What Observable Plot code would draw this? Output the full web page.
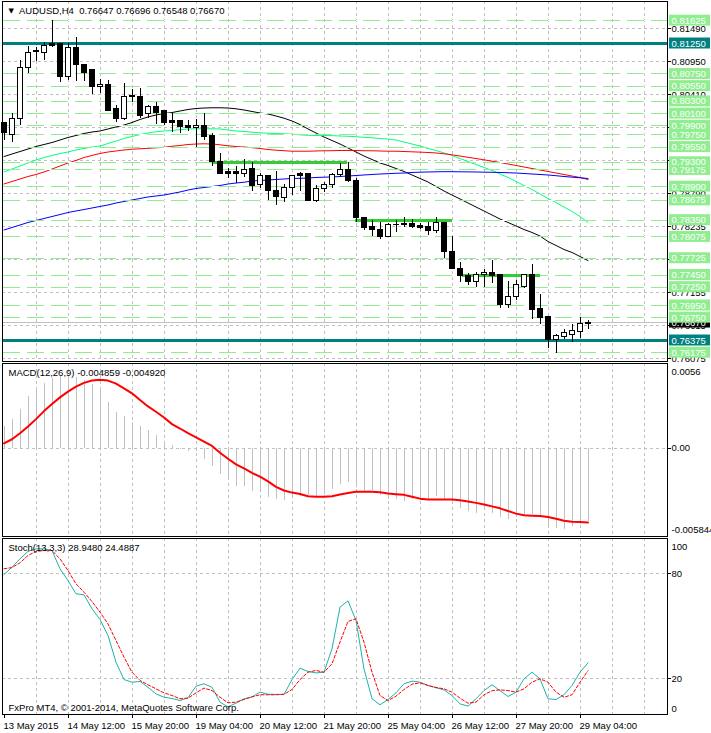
<!DOCTYPE html>
<html><head><meta charset="utf-8">
<script src="https://cdn.jsdelivr.net/npm/d3@7"></script>
<script src="https://cdn.jsdelivr.net/npm/@observablehq/plot@0.6"></script>
<style>
body{margin:0;background:#fff;overflow:hidden}
#wrap{position:relative;width:711px;height:733px;background:#fff;overflow:hidden}
#wrap svg{position:absolute;left:0}
</style></head><body><div id="wrap"></div>
<script>
// ---------- data ----------
const symbol = "AUDUSD", timeframe = "H4";
const openP = [0.79937,0.79756,0.80003,0.80856,0.81119,0.81102,0.81234,0.81234,0.80708,0.81168,
0.80905,0.80807,0.80528,0.80561,0.80167,0.80003,0.80396,0.80364,0.80085,0.80200,
0.80150,0.79970,0.79970,0.79888,0.79860,0.79904,0.79724,0.79313,0.79133,0.79133,
0.79111,0.79187,0.78924,0.79067,0.78837,0.78717,0.78881,0.79100,0.79100,0.78673,
0.78865,0.78931,0.79095,0.79177,0.79001,0.78389,0.78230,0.78197,0.78071,0.78274,
0.78295,0.78295,0.78258,0.78230,0.78169,0.78307,0.77824,0.77552,0.77437,0.77332,
0.77453,0.77486,0.77442,0.76961,0.77086,0.77250,0.77458,0.76884,0.76769,0.76387,
0.76429,0.76469,0.76511,0.76647];
const highP = [0.79953,0.80101,0.80971,0.81201,0.81184,0.81266,0.81628,0.81250,0.81250,0.81348,
0.80905,0.80807,0.80659,0.80643,0.80232,0.80593,0.80495,0.80511,0.80232,0.80282,
0.80150,0.80101,0.79970,0.79986,0.79998,0.80096,0.79768,0.79440,0.79193,0.79231,
0.79341,0.79302,0.79111,0.79067,0.79149,0.78936,0.79078,0.79138,0.79100,0.78919,
0.78973,0.79111,0.79285,0.79302,0.79029,0.78389,0.78345,0.78307,0.78291,0.78345,
0.78389,0.78356,0.78291,0.78307,0.78389,0.78307,0.78082,0.77660,0.77480,0.77496,
0.77535,0.77688,0.77442,0.77343,0.77360,0.77458,0.77618,0.77125,0.76769,0.76469,
0.76551,0.76633,0.76758,0.76696];
const lowP = [0.79658,0.79625,0.79904,0.80758,0.80955,0.80971,0.81184,0.80610,0.80643,0.80626,
0.80626,0.80413,0.80429,0.80150,0.79953,0.79986,0.80282,0.80019,0.80019,0.79920,
0.79904,0.79789,0.79773,0.79811,0.79548,0.79658,0.79231,0.79100,0.79029,0.78957,
0.79046,0.78826,0.78870,0.78673,0.78591,0.78645,0.78755,0.78826,0.78657,0.78645,
0.78809,0.78875,0.79046,0.78968,0.78317,0.78181,0.78087,0.78028,0.78071,0.78153,
0.78225,0.78213,0.78192,0.78103,0.78126,0.77716,0.77535,0.77332,0.77273,0.77250,
0.77250,0.77316,0.76905,0.76900,0.77032,0.77224,0.76715,0.76638,0.76249,0.76167,
0.76387,0.76347,0.76413,0.76548];
const closeP = [0.79773,0.80003,0.80856,0.81102,0.81107,0.81201,0.81212,0.80708,0.81168,0.80889,
0.80774,0.80528,0.80561,0.80150,0.80003,0.80364,0.80364,0.80068,0.80200,0.80106,
0.79942,0.79942,0.79876,0.79860,0.79904,0.79712,0.79302,0.79100,0.79100,0.79111,
0.79177,0.78919,0.79067,0.78826,0.78727,0.78881,0.79078,0.79078,0.78673,0.78865,
0.78931,0.79095,0.79177,0.78990,0.78382,0.78225,0.78192,0.78071,0.78274,0.78276,
0.78263,0.78246,0.78218,0.78169,0.78307,0.77824,0.77545,0.77431,0.77332,0.77453,
0.77486,0.77431,0.76961,0.77092,0.77289,0.77458,0.76879,0.76748,0.76380,0.76441,
0.76490,0.76523,0.76649,0.76670];

const maBlack = [0.79395,0.79436,0.79477,0.79518,0.79559,0.79592,0.79625,0.79666,0.79707,0.79740,
0.79773,0.79797,0.79814,0.79847,0.79880,0.79912,0.79953,0.80003,0.80044,0.80076,
0.80101,0.80117,0.80142,0.80167,0.80183,0.80191,0.80195,0.80195,0.80191,0.80178,
0.80159,0.80134,0.80109,0.80093,0.80060,0.80024,0.79978,0.79920,0.79847,0.79781,
0.79715,0.79658,0.79600,0.79535,0.79469,0.79403,0.79346,0.79289,0.79248,0.79198,
0.79149,0.79092,0.79034,0.78977,0.78903,0.78829,0.78763,0.78698,0.78632,0.78566,
0.78501,0.78435,0.78369,0.78312,0.78255,0.78197,0.78148,0.78090,0.78000,0.77935,
0.77869,0.77820,0.77754,0.77688];
const maGreen = [0.79141,0.79190,0.79239,0.79289,0.79338,0.79379,0.79412,0.79445,0.79469,0.79502,
0.79527,0.79551,0.79568,0.79609,0.79650,0.79691,0.79724,0.79756,0.79781,0.79801,
0.79814,0.79822,0.79835,0.79847,0.79850,0.79850,0.79850,0.79847,0.79830,0.79814,
0.79806,0.79794,0.79784,0.79778,0.79773,0.79768,0.79761,0.79751,0.79743,0.79740,
0.79740,0.79737,0.79732,0.79727,0.79720,0.79710,0.79702,0.79691,0.79683,0.79666,
0.79633,0.79600,0.79568,0.79527,0.79494,0.79453,0.79412,0.79362,0.79313,0.79264,
0.79215,0.79166,0.79108,0.79051,0.78985,0.78919,0.78854,0.78780,0.78706,0.78640,
0.78566,0.78493,0.78411,0.78312];
const maRed = [0.78944,0.78985,0.79026,0.79067,0.79100,0.79141,0.79190,0.79239,0.79289,0.79330,
0.79379,0.79412,0.79445,0.79469,0.79486,0.79502,0.79515,0.79522,0.79530,0.79538,
0.79546,0.79563,0.79576,0.79592,0.79600,0.79604,0.79600,0.79587,0.79571,0.79559,
0.79551,0.79540,0.79527,0.79510,0.79499,0.79490,0.79482,0.79482,0.79482,0.79486,
0.79489,0.79490,0.79494,0.79494,0.79494,0.79490,0.79489,0.79486,0.79482,0.79482,
0.79477,0.79472,0.79467,0.79461,0.79453,0.79440,0.79423,0.79403,0.79382,0.79362,
0.79341,0.79318,0.79297,0.79272,0.79248,0.79223,0.79198,0.79174,0.79149,0.79124,
0.79100,0.79075,0.79051,0.79018];
const maBlue = [0.78189,0.78230,0.78271,0.78312,0.78345,0.78378,0.78410,0.78443,0.78476,0.78501,
0.78525,0.78550,0.78575,0.78599,0.78632,0.78657,0.78681,0.78706,0.78731,0.78747,
0.78763,0.78788,0.78813,0.78845,0.78870,0.78886,0.78903,0.78919,0.78944,0.78960,
0.78973,0.78993,0.79001,0.79010,0.79018,0.79026,0.79034,0.79037,0.79042,0.79051,
0.79056,0.79059,0.79067,0.79075,0.79083,0.79092,0.79100,0.79108,0.79113,0.79120,
0.79124,0.79133,0.79138,0.79141,0.79144,0.79146,0.79146,0.79144,0.79143,0.79141,
0.79138,0.79136,0.79133,0.79129,0.79124,0.79116,0.79108,0.79100,0.79092,0.79080,
0.79067,0.79056,0.79046,0.79034];

const macdMain = [0.00143,0.00192,0.00254,0.00341,0.00392,0.00425,0.00458,0.00476,0.00480,0.00469,
0.00447,0.00418,0.00396,0.00303,0.00236,0.00210,0.00170,0.00141,0.00114,0.00086,
0.00023,0.00019,-0.00008,-0.00019,-0.00023,-0.00074,-0.00123,-0.00176,-0.00207,-0.00251,
-0.00256,-0.00285,-0.00296,-0.00329,-0.00340,-0.00345,-0.00322,-0.00318,-0.00314,-0.00318,
-0.00307,-0.00274,-0.00243,-0.00229,-0.00263,-0.00296,-0.00278,-0.00314,-0.00340,-0.00340,
-0.00351,-0.00340,-0.00345,-0.00340,-0.00318,-0.00345,-0.00373,-0.00402,-0.00418,-0.00429,
-0.00411,-0.00429,-0.00462,-0.00473,-0.00456,-0.00447,-0.00440,-0.00456,-0.00529,-0.00529,
-0.00535,-0.00518,-0.00507,-0.004859];
const macdSignal = [0.00032,0.00059,0.00099,0.00143,0.00192,0.00245,0.00292,0.00336,0.00374,0.00407,
0.00432,0.00447,0.00452,0.00447,0.00427,0.00396,0.00363,0.00318,0.00276,0.00241,
0.00203,0.00159,0.00130,0.00099,0.00072,0.00043,0.00015,-0.00030,-0.00070,-0.00107,
-0.00134,-0.00163,-0.00189,-0.00220,-0.00256,-0.00280,-0.00294,-0.00303,-0.00318,-0.00322,
-0.00322,-0.00318,-0.00307,-0.00296,-0.00289,-0.00289,-0.00289,-0.00291,-0.00300,-0.00305,
-0.00309,-0.00322,-0.00334,-0.00340,-0.00340,-0.00340,-0.00340,-0.00345,-0.00353,-0.00362,
-0.00373,-0.00385,-0.00398,-0.00416,-0.00433,-0.00444,-0.00447,-0.00449,-0.00456,-0.00467,
-0.00480,-0.00487,-0.00489,-0.004920];

const stochK = [79.4,83.6,88.4,92.6,94.1,94.1,93.1,82.7,76.0,68.4,
67.8,59.8,53.7,44.6,29.3,19.4,17.9,18.3,15.0,11.2,
9.3,8.6,7.4,9.0,15.6,17.0,15.0,6.5,3.8,5.9,
8.4,9.5,12.2,11.0,10.9,10.9,19.4,25.9,24.0,23.2,
23.6,37.0,60.8,64.4,53.1,25.5,8.4,5.0,8.0,11.8,
17.0,18.5,17.9,16.0,14.7,13.5,10.3,5.5,4.2,8.4,
13.1,16.4,13.1,9.7,12.2,19.8,23.6,19.8,8.4,8.0,
10.7,16.0,23.6,28.948];
const stochD = [82.7,83.4,86.1,90.3,92.6,93.1,93.1,88.4,81.7,74.1,
69.3,64.0,57.9,51.2,41.7,32.2,23.6,18.9,16.4,14.1,
11.8,10.3,8.4,8.8,11.8,14.5,13.1,9.3,6.1,6.5,
8.0,9.5,10.7,10.7,10.7,11.0,13.7,19.4,23.6,24.6,
23.6,28.4,40.8,52.6,54.1,40.8,23.6,10.3,7.4,9.9,
13.7,16.8,17.5,16.0,14.9,14.1,12.2,8.8,5.9,6.5,
10.7,13.0,13.5,13.1,12.2,14.1,17.9,19.8,17.9,12.2,
9.3,10.7,17.9,24.4887];

const levelPrices = [0.81625,0.80750,0.80550,0.80300,0.80100,0.79900,0.79750,0.79550,0.79175,0.79300,
0.78900,0.78675,0.78350,0.78075,0.77725,0.77450,0.77250,0.76950,0.76750,0.76175];
const keyLevels = [0.81250,0.76375];
const zoneFrom = [26.2,43.9,57.3];
const zoneTo = [42.9,56.1,67.1];
const zonePrice = [0.7929,0.7835,0.7745];
const lastPrice = 0.76670;
const gridPrices = [0.81490,0.80949,0.80407,0.79866,0.79324,0.78783,0.78241,0.77700,0.77158,0.76617,0.76075];
const gridLabels = ["0.81490","0.80950","0.80410","0.79870","0.79330","0.78790","0.78235","0.77695","0.77155","0.76615","0.76075"];
const macdAxisLabels = ["0.0056","0.00","-0.005844"];
const stochAxis = [100,80,20,0];
const stochLevels = [80,20];
const tickBars = [0,8,16,24,32,40,48,56,64,72];
const tickLabels = ["13 May 2015","14 May 12:00","15 May 20:00","19 May 04:00","20 May 12:00","21 May 20:00","25 May 04:00","26 May 12:00","27 May 20:00","29 May 04:00"];

// ---------- layout ----------
const N = openP.length;
const idx = d3.range(N);
const X_DOMAIN = [-0.1875, 82.9375], X_RANGE = [2, 667];
const ix = px => X_DOMAIN[0] + (px - X_RANGE[0]) * (X_DOMAIN[1] - X_DOMAIN[0]) / (X_RANGE[1] - X_RANGE[0]);
const vgrid = d3.range(4, 81, 4);
const FONT = "'Liberation Sans', Arial, sans-serif";
const W = 711;
const wrap = document.getElementById("wrap");
const crisp = {shapeRendering: "crispEdges"};
const gridStyle = {stroke: "#c0c0c0", strokeDasharray: "3,3", ...crisp};

function panel(height, marginBottom, ydomain, yrange, marks, top) {
  const svg = Plot.plot({
    width: W, height,
    marginLeft: 2, marginRight: 44, marginTop: 1, marginBottom,
    x: {domain: X_DOMAIN, range: X_RANGE, axis: null},
    y: {domain: ydomain, range: yrange, axis: null},
    style: {background: "white", fontFamily: FONT, fontSize: "9.5px", overflow: "visible", color: "black"},
    marks
  });
  svg.style.top = top + "px";
  wrap.appendChild(svg);
}

// ---------- main price panel ----------
const Y_MAIN = [0.760304, 0.819394];
const PPX = (Y_MAIN[1] - Y_MAIN[0]) / 360;
const boxMarks = (vals, fill, textFill, labelOf) => vals.flatMap((v, k) => [
  Plot.rect([v], {x1: () => ix(669), x2: () => ix(710), y1: d => d - 5.5 * PPX, y2: d => d + 5.5 * PPX, fill}),
  Plot.text([v], {y: d => d, text: () => labelOf(v, k), frameAnchor: "right", dx: 4, textAnchor: "start", fill: textFill})
]);
const whiteIdx = idx.filter(i => closeP[i] >= openP[i]);
const blackIdx = idx.filter(i => closeP[i] < openP[i]);
const zones = zoneFrom.map((f, k) => ({from: f, to: zoneTo[k], price: zonePrice[k]}));

panel(362, 1, Y_MAIN, [361, 1], [
  Plot.ruleX(vgrid, {x: d => d, ...gridStyle}),
  Plot.ruleY(gridPrices, {y: d => d, ...gridStyle}),
  Plot.line(idx, {x: i => i, y: i => maBlack[i], stroke: "#000000", strokeWidth: 1}),
  Plot.line(idx, {x: i => i, y: i => maGreen[i], stroke: "#00ff7f", strokeWidth: 1}),
  Plot.line(idx, {x: i => i, y: i => maRed[i], stroke: "#ff0000", strokeWidth: 1}),
  Plot.line(idx, {x: i => i, y: i => maBlue[i], stroke: "#0000ff", strokeWidth: 1}),
  Plot.ruleY([lastPrice], {y: d => d, stroke: "#c0c0c0", ...crisp}),
  Plot.ruleY(levelPrices, {y: d => d, stroke: "white", ...crisp}),
  Plot.ruleY(levelPrices, {y: d => d, stroke: "#90ee90", strokeDasharray: "17,7", strokeDashoffset: -1, ...crisp}),
  Plot.ruleY(keyLevels, {y: d => d, stroke: "#008080", strokeWidth: 3, ...crisp}),
  Plot.ruleY(zones, {x1: "from", x2: "to", y: "price", stroke: "#32cd32", strokeWidth: 3, ...crisp}),
  Plot.ruleX(idx, {x: i => i, y1: i => lowP[i], y2: i => highP[i], stroke: "black", ...crisp}),
  Plot.rect(blackIdx, {x1: i => i - 0.3125, x2: i => i + 0.3125, y1: i => openP[i], y2: i => closeP[i], fill: "black", stroke: "black", ...crisp}),
  Plot.rect(whiteIdx, {x1: i => i - 0.3125, x2: i => i + 0.3125, y1: i => openP[i], y2: i => closeP[i], fill: "white", stroke: "black", ...crisp}),
  Plot.frame({stroke: "black", ...crisp}),
  Plot.ruleY(gridPrices, {y: d => d, x1: () => ix(667), x2: () => ix(671), stroke: "black", ...crisp}),
  Plot.text(gridPrices, {y: d => d, text: (d, i) => gridLabels[i], frameAnchor: "right", dx: 4, textAnchor: "start", fill: "black"}),
  ...boxMarks([lastPrice], "black", "white", v => v.toFixed(5)),
  ...boxMarks(levelPrices, "#90ee90", "white", v => v.toFixed(5)),
  ...boxMarks(keyLevels, "#008080", "white", v => v.toFixed(5)),
  Plot.text(["\u25BC"], {frameAnchor: "top-left", dx: 6, dy: 9, lineAnchor: "middle", textAnchor: "start", fontSize: 7, fontFamily: "DejaVu Sans"}),
  Plot.text([`${symbol},${timeframe}\u00a0\u00a0${openP[N-1].toFixed(5)} ${highP[N-1].toFixed(5)} ${lowP[N-1].toFixed(5)} ${closeP[N-1].toFixed(5)}`],
    {frameAnchor: "top-left", dx: 16.5, dy: 9.5, lineAnchor: "middle", textAnchor: "start", text: d => d})
], 0);

// ---------- MACD panel ----------
panel(175, 1, [-0.005844, 0.0056], [174, 1], [
  Plot.ruleX(vgrid, {x: d => d, ...gridStyle}),
  Plot.ruleY([0], {y: d => d, ...gridStyle}),
  Plot.ruleX(idx, {x: i => i, y1: () => 0, y2: i => macdMain[i], stroke: "#c0c0c0", ...crisp}),
  Plot.line(idx, {x: i => i, y: i => macdSignal[i], stroke: "#ff0000", strokeWidth: 2}),
  Plot.frame({stroke: "black", ...crisp}),
  Plot.ruleY([0], {y: d => d, x1: () => ix(667), x2: () => ix(671), stroke: "black", ...crisp}),
  Plot.text([macdAxisLabels[0]], {frameAnchor: "top-right", dx: 4, dy: 8.5, textAnchor: "start", lineAnchor: "middle", text: d => d}),
  Plot.text([macdAxisLabels[1]], {y: () => 0, frameAnchor: "right", dx: 4, textAnchor: "start", text: d => d}),
  Plot.text([macdAxisLabels[2]], {frameAnchor: "bottom-right", dx: 4, dy: -7, textAnchor: "start", lineAnchor: "middle", text: d => d}),
  Plot.text([`MACD(12,26,9) ${macdMain[N-1].toFixed(6)} ${macdSignal[N-1].toFixed(6)}`],
    {frameAnchor: "top-left", dx: 6, dy: 9.3, lineAnchor: "middle", textAnchor: "start", text: d => d})
], 362);

// ---------- Stochastic panel ----------
const iyS = px => 100 * (176 - px) / 175;
panel(196, 19, [0, 100], [176, 1], [
  Plot.ruleX(vgrid, {x: d => d, ...gridStyle}),
  Plot.ruleY(stochLevels, {y: d => d, ...gridStyle}),
  Plot.line(idx, {x: i => i, y: i => stochK[i], stroke: "#20b2aa", strokeWidth: 1}),
  Plot.line(idx, {x: i => i, y: i => stochD[i], stroke: "#ff0000", strokeWidth: 1, strokeDasharray: "3,2"}),
  Plot.frame({stroke: "black", ...crisp}),
  Plot.ruleY(stochLevels, {y: d => d, x1: () => ix(667), x2: () => ix(671), stroke: "black", ...crisp}),
  Plot.text([stochAxis[0]], {frameAnchor: "top-right", dx: 4, dy: 8.5, textAnchor: "start", lineAnchor: "middle", text: d => String(d)}),
  Plot.text(stochLevels, {y: d => d, frameAnchor: "right", dx: 4, textAnchor: "start", text: d => String(d)}),
  Plot.text([stochAxis[3]], {frameAnchor: "bottom-right", dx: 4, dy: -6, textAnchor: "start", lineAnchor: "middle", text: d => String(d)}),
  Plot.text([`Stoch(13,3,3) ${stochK[N-1].toFixed(4)} ${stochD[N-1].toFixed(4)}`],
    {frameAnchor: "top-left", dx: 6, dy: 9.7, lineAnchor: "middle", textAnchor: "start", text: d => d}),
  Plot.text(["FxPro MT4, \u00a9 2001-2014, MetaQuotes Software Corp."],
    {frameAnchor: "bottom-left", dx: 6, dy: -6.5, lineAnchor: "middle", textAnchor: "start", text: d => d}),
  Plot.ruleX(tickBars, {x: d => d, y1: () => iyS(177), y2: () => iyS(181), stroke: "black", ...crisp}),
  Plot.text(tickBars, {x: d => d, y: () => iyS(188), text: (d, i) => tickLabels[i], textAnchor: "start", dx: -0.5, lineAnchor: "middle"})
], 537);
</script></body></html>
